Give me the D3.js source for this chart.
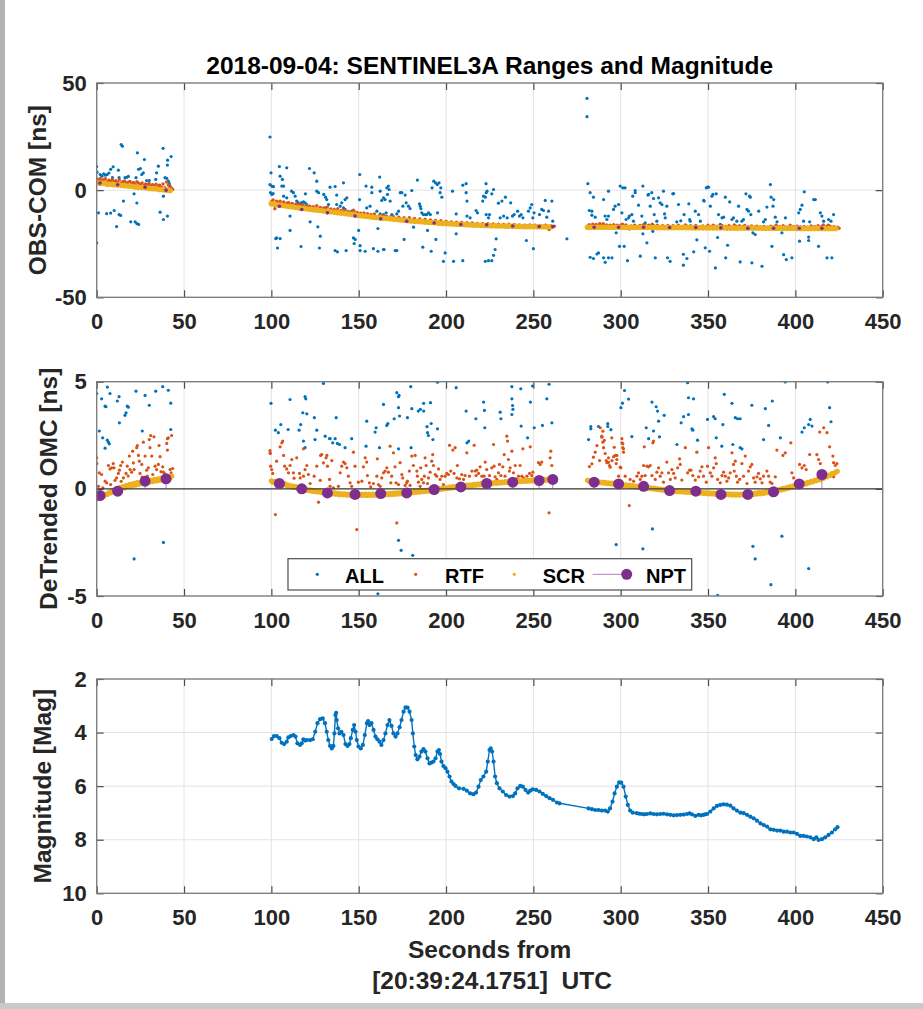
<!DOCTYPE html>
<html>
<head>
<meta charset="utf-8">
<script src="https://d3js.org/d3.v7.min.js"></script>
<style>
  body { margin: 0; background: #fff; }
  svg text { font-family: "Liberation Sans", Arial, sans-serif; font-weight: bold; }
</style>
</head>
<body>
<div id="chart"></div>
<script>
// ---------- data (seconds from 20:39:24.1751 UTC) ----------
var xTicks = [0, 50, 100, 150, 200, 250, 300, 350, 400, 450];
var omcTicks = [-50, 0, 50];
var resTicks = [-5, 0, 5];
var magTicks = [2, 4, 6, 8, 10];

// panel 1: OBS-COM [ns], all returns
var all1 = [[0,11],[0.2,8.4],[0,-24.6],[1,-10.6],[2,7.3],[3,6.5],[4,7.6],[5,7],[6,7.3],[7,8],[8,9.7],[9,5.8],[5.7,-11],[8,-10.7],[10,-9.5],[12.8,-11.4],[13.7,-11.8],[11.4,-17],[14,21.3],[14.7,20.5],[12.4,9.3],[12.8,5.8],[9.4,10.9],[15.3,-5.1],[16.2,5.8],[17.2,6],[18.1,6.4],[19.5,-14.8],[22,-14.8],[23,-15.6],[24,-16],[21.4,-1.7],[23,-6],[23.3,17.4],[22.5,5.8],[24,9.7],[25,10.1],[25.8,7.3],[27.3,14.3],[26.7,8.1],[28.6,4.5],[30.1,4.5],[33.8,5],[34.3,8.1],[35.3,11.2],[36.3,-10.3],[38,19.5],[38.2,-2.8],[38.2,-13.7],[39.1,5.8],[40.1,5.5],[40.5,11.7],[40.6,14],[40.5,-12.1],[41,4.2],[41.6,3],[42,1.9],[42.6,15.7],
  [99.2,24.8],[99.8,8.1],[99.2,2.6],[100.2,1.9],[101.2,1.6],[99.5,-1.2],[100.3,-2],[101,-1.6],[102.5,-22.6],[103,-22.3],[105,-22.6],[103.5,-27],[104.6,11],[105,6.5],[106.3,5],[106,1.9],[107,1.9],[108.8,10.4],[107,-2.8],[108.8,-3.6],[110.7,-12.1],[110.7,-18.8],[111.6,-0.5],[112.6,-1.2],[113.6,-2.8],[114.5,-5.1],[115.5,-5.9],[116.5,-6.4],[117.4,-5.8],[118.4,-5.5],[119.3,-5.9],[120.3,-6.7],[117,-26.3],[119.5,-1.7],[121.8,10.1],[122.2,-14.8],[124.5,8.1],[126,4.2],[126,-0.5],[127,-1.2],[126.6,-17.1],[127.5,-27],[128,-21.5],[130,-2],[131,-3.3],[131.7,-4.4],[131,-8.3],[132.7,-6.7],
  [133.6,1.4],[136.5,1.7],[137.4,-2.3],[137.4,-6.7],[139.4,-7.5],[141.3,-8.3],[142.2,-9],[141.3,3.4],[140.3,-5.9],[142.2,-4.4],[143.2,-3.6],[136.5,-28.2],[137.8,-28.8],[142.8,-28.2],[147,-22.3],[148,-23],[147.4,-24.9],[146,-9.8],[148,-10.6],[150,-18.8],[150.6,7.3],[150.5,-4.4],[150.8,-25.9],[150.8,-28.2],[153.7,-28.5],[154.2,1.9],[157.5,1.4],[157.5,-1.2],[156.5,-7.5],[154.6,-8.3],[161,-17.9],[158.4,-27.3],[161,-28.5],[164.2,-27.7],[164.5,-27.7],[162,6.1],[162.3,-0.5],[163.2,-4.8],[164.2,-3.6],[165.1,-4.4],[166.1,1.1],[167,1.9],[167.4,0.3],[166.5,-2],[160.4,-9.8],[162.3,-11.1],[164.2,-11.4],[165.7,-10.6],[168,-5.1],[169,-11.4],[170.9,-28.2],[171.8,-28.2],[171.8,-11.1],[172.8,-9.8],[173.8,-1.2],[174.7,-1.2],[175.3,-7.5],[176,-23],[176.6,-2.3],[177.2,-5.9],[178.5,-7.5],[179.4,-8.6],[180.4,-0.2],[181.4,-17.3],[183.6,4.7],[184.8,-6.4],[185.2,-7.5],[185.6,-8.6],[186.1,-10.6],[187,-11.4],[186.7,-26.6],[188.1,-11.4],[189,-11.4],[189.4,-18.8],[190,-10.6],[191,-11.4],[191.5,-28.5],[192,1.1],[193,4.2],[194,3.4],[195,2.6],[196,3.4],[197,1.1],[197.6,-3.3],[194.2,-23],[195.1,-10.6],[196.6,-1.2],[198.5,-33.2],[199.5,-29.3],[203.7,-0.5],[204.3,-33.2],[205.8,-11.1],[205.8,-20.4],[209.6,2.3],[211.5,3],[211.5,-1.2],[209.6,-32.9],[212,-5.1],[212,-12.1],[213.8,-12.9],[217.2,-9.5],[218,-10.6],[221,-5.1],[221.5,-2.8],[222.5,-3.3],[222.9,3],[223,-1.2],[223.5,-0.5],[222.5,-33.2],[224.3,-32.9],[226.2,-32.9],[227.2,-30.4],[228.1,-27.7],[223,-11.4],[224.3,-12.9],[224.9,-11.4],[226.2,-1.7],[227.2,0.3],[228.7,-22.7],[230,-6.1],[232,-5.1],[234,-3.3],[235,-12.9],[237,-5.9],[231,-12.9],[233,-12.1],[238,-12.1],[239,-11.4],[241,-9.8],[242,-12.1],[243,-11.4],[244,-12.9],[246,-23.5],[247.2,-9.8],[248.2,-8.3],[249.1,-6.7],[249.7,-12.9],[250,-27.3],[250.4,-10.6],[253.5,-11.4],[254.8,-9],[255.8,-9.5],[256.8,-4.8],[257.7,-12.6],[258.7,-9.8],[260.6,-5.1],[261.1,-14.5],[269.2,-22.7],
  [280.7,42.8],[280.7,34.3],[281.2,3],[282.5,-1.2],[283.5,-9.8],[284.4,-3.3],[282.5,-31.3],[284.4,-31.9],[286.4,-29.8],[287.3,-29.3],[282,-9.5],[283.5,-11.7],[285.4,-12.6],
  [290.2,-4.4],[291.1,-12.1],[292.1,-13.7],[293,-12.1],[290.2,-31.6],[291.1,-33.7],[293,-31.6],[295,-31.6],[293,-0.5],[295.9,-9],[296.8,-7.5],[297.4,-19.9],[298.8,-6.7],[299.3,-26.2],[299.7,1.9],[300.7,-10.6],[301.2,1.1],[302,-26.2],[302.5,1.1],[303.1,-13.7],[303.9,-32.9],[304.5,-12.9],[305,-12.1],[306.4,-11.4],[306.9,-2.8],[307.3,-14.5],[308.3,-1.2],[310.2,-7],[311.2,-30.8],[312.1,-12.1],[312.7,1.9],[312.7,-20.4],[314,-15.3],[315,-24.6],[316,-2],[316.9,-7.5],[317.8,-1.2],[318.4,-19.2],[318.8,-3.9],[319.2,-11.4],[319.8,-31.6],[320.7,-14.5],[321.7,-3.6],[322.6,-5.9],[323.6,-6.7],[324.5,-0.5],[325.1,-11.1],[325.5,-12.9],[326.4,-7.5],[326.8,-31.6],[328.3,-33.2],[329.8,-1.7],[332.1,-14.8],[333.1,-6.7],[334.4,-14.3],[335.9,-29.9],[336.3,-11.4],[337.9,-31.9],[335.9,-35],[339,-6.4],[339.5,-13.7],[339.8,-14.5],[341.8,-28.8],[342.7,-9.8],[343.6,-23.2],[344.6,-11.4],[345.6,-14.5],[347.5,-4.8],[347.8,-5.1],[348.4,-26.9],[349,1.1],[349.7,1.4],[350.9,-28.5],[351.3,-7.5],[352.2,-2.8],[352.8,-2],[354.2,-36.3],[354.7,-1.7],[355.5,-22.1],[356,-11.4],[357,-16],[358,-12.9],[358.9,-12.6],[359.9,-3.3],[360.1,-31.6],[361.2,-25.7],[362.4,-5.5],[363.7,-13.7],[364.6,-12.9],[366.5,-14.5],[367.5,-7.5],[368.4,-33.5],[369.4,-14.5],[370.3,-13.7],[371.7,-1.7],[372.3,-9],[373.2,-9.8],[374.2,-3.3],[374.5,-11.4],[375.1,-33.9],[375.7,-19.9],[377,-20.7],[379,-9.8],[380.9,-35.5],[381.8,-14.8],[382.8,-13.7],[383.7,-7.9],[385.7,2.6],[386.1,-3.3],[386.6,-26.2],[387.2,-7.5],[387.6,-4.4],[388.5,-12.6],[389.5,-14.8],[392.3,-19.9],[393.3,-30.1],[394.3,-12.9],[394.8,-32.4],[398,-31.6],[401.9,-10.6],[402.4,-23.8],[402.8,-9],[403.8,-7],[404.7,-14.5],[405.1,-0.8],[407.6,-21.9],[407.6,-23.5],[408.2,-14.8],[410.5,-4.4],[413.3,-26.2],[414.3,-10.6],[415.2,-12.1],[416.2,-14.5],[418.1,-31.6],[419,-13.7],[420.9,-31.6],[421.9,-11.4],[420.4,-14.5],[308.3,-0.2],[315.6,-2.3],[330.3,-1.6],[350.3,1.4],[373.8,-2.8],[411.4,-4.4]];

// panel 1: range-gate filtered returns
var rtf1 = [[0,5.2],[1,4.6],[2,5.5],[3,4.4],[4,4.9],[5,5.3],[6,3.9],[7,4.6],[8,4.2],[9,5.0],[10,3.8],[11,4.4],[12,3.6],[13,4.8],[14,3.4],[15,3.9],[16,4.3],[17,3.1],[18,3.7],[19,4.1],[20,3.0],[21,3.6],[22,2.7],[23,3.9],[24,3.2],[25,2.6],[26,3.4],[27,2.2],[28,2.9],[29,2.5],[30,3.1],[31,2.0],[32,2.6],[33,1.8],[34,2.8],[35,1.6],[36,2.3],[37,1.4],[38,2.9],[39,1.2],[40,3.8],[41,2.4],[42,1.5],[43,0.8],[43.5,0.3],
  [100,-5.4],[101,-4.6],[102,-8.7],[103,-5.2],[104,-6.0],[105,-5.1],[106,-6.3],[107,-5.5],[108,-6.6],[109,-6.0],[110,-5.8],[111,-6.9],[112,-6.2],[113,-7.3],[114,-6.6],[115,-7.2],[116,-6.4],[117,-7.7],[118,-7.0],[119,-7.9],[120,-7.2],[121,-8.1],[122,-7.5],[123,-8.4],[124,-7.7],[125,-8.6],[126,-7.3],[127,-8.8],[128,-8.1],[129,-9.0],[130,-8.3],[131,-9.1],[132,-7.9],[133,-9.4],[134,-8.8],[135,-9.6],[136,-9.0],[137,-9.9],[138,-8.7],[139,-10.0],[140,-9.5],[141,-10.2],[142,-9.3],[143,-10.5],[144,-9.9],[145,-10.8],[146,-10.1],[147,-9.4],[148,-11.0],[149,-10.4],[150,-11.3],[151,-10.7],[152,-11.5],[153,-10.6],[154,-11.8],[155,-11.0],[156,-12.0],[157,-11.3],[158,-12.2],[159,-11.1],[160,-12.4],[162,-11.8],[163,-12.6],[164,-11.9],[165,-12.8],[166,-12.1],[168,-12.5],[169,-13.3],[170,-12.4],[172,-13.2],[173,-12.6],[175,-13.5],[176,-12.8],[178,-13.7],[179,-12.9],[181,-13.9],[182,-13.2],[184,-14.2],[185,-13.4],[187,-14.5],[188,-13.6],[190,-14.7],[191,-13.9],[193,-14.9],[194,-14.1],[196,-15.1],[197,-14.3],[199,-15.3],[200,-14.6],[202,-15.4],[203,-14.8],[205,-15.6],[206,-15.0],[208,-15.7],[209,-15.1],[211,-15.8],[212,-15.2],[214,-16.0],[215,-15.3],[217,-16.1],[218,-15.5],[220,-16.2],[221,-15.6],[223,-16.3],[224,-15.7],[226,-16.4],[227,-15.8],[229,-16.5],[230,-15.9],[232,-16.6],[233,-16.0],[235,-16.6],[236,-15.9],[238,-16.7],[239,-16.1],[241,-16.8],[242,-16.2],[244,-16.8],[245,-16.3],[247,-16.9],[248,-16.2],[250,-16.9],[251,-16.4],[253,-17.0],[254,-16.5],[256,-17.0],[257,-16.4],[259,-18.4],[260,-16.6],[261,-17.3],[262,-16.8],
  [281,-16.8],[282,-16.1],[283,-16.9],[284,-15.9],[285,-16.5],[286,-16.0],[287,-16.7],[288,-15.7],[289,-16.4],[290,-15.6],[291,-16.6],[292,-16.2],[293,-16.8],[294,-16.3],[295,-16.9],[296,-16.1],[297,-16.7],[298,-16.4],[299,-17.0],[300,-16.3],[301,-15.9],[302,-16.8],[303,-16.2],[304,-17.0],[305,-18.1],[306,-16.7],[308,-16.4],[309,-17.0],[311,-16.5],[312,-16.9],[313,-16.1],[314,-16.6],[316,-16.3],[317,-17.0],[318,-15.9],[319,-16.6],[321,-16.4],[322,-17.0],[324,-16.6],[325,-17.1],[327,-16.5],[328,-17.0],[330,-16.6],[332,-17.1],[333,-16.4],[335,-16.9],[337,-16.2],[338,-16.8],[340,-16.6],[342,-17.1],[343,-16.5],[345,-17.0],[347,-16.7],[349,-17.2],[350,-16.4],[352,-16.9],[353,-16.3],[355,-16.8],[357,-17.2],[358,-16.5],[360,-16.9],[362,-16.6],[363,-17.2],[365,-16.2],[366,-16.8],[368,-16.6],[370,-17.1],[371,-16.5],[373,-17.0],[375,-16.7],[377,-17.2],[378,-16.8],[380,-17.2],[382,-16.9],[384,-17.3],[386,-16.8],[388,-17.2],[389,-16.4],[391,-17.0],[393,-16.6],[395,-17.2],[397,-16.3],[399,-17.1],[401,-16.8],[403,-17.2],[405,-16.9],[407,-17.3],[409,-16.7],[411,-17.1],[413,-16.6],[415,-16.9],[416,-16.2],[418,-16.8],[419,-16.3],[420,-16.9],[421,-17.5],[422,-17.0],[423,-17.6],[424,-17.3],[425,-17.8]];

// panel 1: screened returns, sampled every 2 s from each segment start
var scr1Start = [0, 100, 281];
var scr1Step = 2;
var scr1A = [3.5,3.2,3.2,2.8,2.7,2.5,2.4,2.3,2.0,1.9,1.8,1.5,1.3,1.2,1.1,0.8,0.7,0.6,0.3,0.2,0.0,-0.2];
var scr1B = [-6.4,-6.6,-6.9,-7.1,-7.4,-7.6,-7.8,-8.1,-8.3,-8.5,-8.7,-8.9,-9.1,-9.3,-9.5,-9.7,-9.9,-10.1,-10.3,-10.5,-10.7,-10.9,-11.1,-11.3,-11.5,-11.8,-12.0,-12.2,-12.4,-12.6,-12.8,-12.9,-13.1,-13.2,-13.4,-13.6,-13.7,-13.9,-14.0,-14.2,-14.4,-14.5,-14.6,-14.7,-14.9,-15.0,-15.1,-15.2,-15.4,-15.5,-15.6,-15.7,-15.8,-15.9,-15.9,-16.0,-16.1,-16.2,-16.3,-16.3,-16.4,-16.5,-16.5,-16.6,-16.6,-16.7,-16.7,-16.8,-16.8,-16.9,-16.9,-16.9,-17.0,-17.0,-17.0,-17.0,-17.1,-17.1,-17.1,-17.1,-17.2];
var scr1C = [-17.3,-17.3,-17.3,-17.3,-17.3,-17.3,-17.3,-17.3,-17.3,-17.3,-17.4,-17.4,-17.4,-17.4,-17.4,-17.4,-17.4,-17.4,-17.4,-17.4,-17.5,-17.5,-17.5,-17.5,-17.5,-17.5,-17.5,-17.5,-17.5,-17.5,-17.6,-17.6,-17.6,-17.6,-17.6,-17.6,-17.6,-17.6,-17.6,-17.6,-17.7,-17.7,-17.7,-17.7,-17.7,-17.7,-17.7,-17.7,-17.7,-17.7,-17.8,-17.8,-17.8,-17.8,-17.8,-17.8,-17.8,-17.8,-17.8,-17.8,-17.9,-17.9,-17.9,-17.9,-17.9,-17.9,-17.9,-17.9,-17.9,-17.9,-17.9,-17.9];

// panel 2: detrended OMC [ns]
var all2 = [[0,4.45],[2.8,4.2],[6.1,4.75],[7.6,4.45],[4.8,3.86],[5.3,3.83],[11.8,4.1],[12.8,4.3],[17.5,3.86],[16.2,3.43],[16.8,3.55],[13,3.08],[18.1,3.81],[22.5,4.56],[27.7,4.36],[30.1,3.9],[33.8,4.56],[37.8,4.77],[41,4.6],[42.4,4.0],[1.5,2.7],[3.4,2.38],[6.1,2.27],[6.7,2.18],[7.2,2.1],[4.8,1.9],[26.1,2.7],[42.4,2.77],[38.2,-2.5],[21.4,-3.27],
  [99.8,3.99],[110.7,4.17],[119.3,4.3],[119.7,4.2],[118,3.55],[120.3,3.5],[116.8,3.0],[115.9,2.74],[124.6,3.32],[126,2.74],[125,2.3],[130.8,2.46],[133.3,2.35],[118.4,2.23],[119.3,1.92],[102.3,2.74],[104,2.62],[105.4,3.0],[109.6,2.77],[129.8,4.92],
  [137.1,3.32],[133.6,2.34],[135.1,2.15],[136.5,2.34],[137.8,2.12],[139,2.07],[142.2,1.92],[146,2.34],[154.2,1.99],[154.6,3.16],[159.4,2.65],[160,2.85],[161.9,1.92],[164.2,3.94],[166.1,2.96],[166.7,3.05],[170.3,3.27],[171.8,4.49],[172.8,4.3],[173.1,4.36],[172.8,3.79],[173.4,3.4],[172.8,1.87],[177.9,3.32],[179.8,4.77],[180.4,3.74],[180,1.92],[184.1,3.63],[185.3,3.71],[187.2,3.63],[187.2,3.99],[189.1,2.9],[189.4,2.62],[189.9,2.49],[191.5,3.05],[192.5,2.3],[191.1,4.02],[195.1,4.98],[195.1,2.8],[205.8,4.72],[211.5,3.63],[212,2.15],[213,2.23],[217.1,3.27],[221.5,4.05],[222,3.66],[222.2,2.85],[231,3.58],[231.4,3.27],[237.7,4.77],[237.7,4.2],[238.1,3.89],[238.3,3.71],[237.7,3.47],[242.8,4.67],[243,2.93],[246.7,2.38],[248.3,4.05],[249.5,4.8],[250.5,2.85],[255.2,2.96],[257.7,4.2],[259,4.88],[260.6,3.08],[172.8,-2.4],[174.3,-2.87],[180.9,-3.1],[161,-4.9],
  [281.6,2.3],[282.9,2.91],[282.9,2.8],[287.3,2.91],[292.6,3.04],[292.6,2.91],[294.4,2.76],[300.1,3.79],[301,4.0],[302.2,4.59],[304.5,4.19],[306.4,2.44],[297.4,-2.6],
  [317.9,4.05],[320.3,3.83],[321.1,3.63],[321.7,3.16],[314.6,2.85],[318.8,2.7],[316,2.34],[322.2,2.43],[324.9,3.43],[332.2,2.07],[334.6,3.08],[336,3.37],[338.8,3.47],[338.8,4.25],[341.7,4.2],[340.8,2.8],[341.3,2.74],[344,2.27],[338.3,4.95],[349.7,3.24],[353.2,3.37],[354.1,3.27],[354.7,2.38],[357.9,1.99],[358.5,3.0],[359.3,4.41],[363.7,3.99],[364.2,2.07],[365.6,3.32],[366.9,3.27],[368.4,3.27],[368.4,1.92],[369.4,1.87],[375.1,3.9],[382.8,3.74],[386.8,4.1],[384.7,2.96],[381.8,2.3],[391.4,2.38],[394.2,4.99],[403.8,2.65],[405.1,2.85],[407.6,3.0],[408.5,3.24],[409.5,2.93],[418.5,4.99],[419.6,3.79],[420.4,3.13],[312.7,-2.8],[318.2,-1.87],[375.7,-2.68],[377,-3.27],[386,-4.47],[392.3,-2.21],[407.6,-3.72],[355.5,-4.97]];

var rtf2 = [[0,1.45],[0.1,1.18],[1.5,0.75],[2.8,0.67],[1,0.12],[4.8,0.36],[5.7,0.28],[6.7,1.09],[7.6,0.93],[8.6,0.98],[9.5,1.18],[9.9,0.98],[10.5,0.4],[11.4,0.51],[12.4,0.72],[13,0.87],[13.7,1.09],[14.7,1.25],[15.3,0.51],[16.8,0.72],[17.5,1.06],[18.7,1.53],[19.1,0.9],[20,0.78],[20.6,1.76],[21,1.21],[21.4,0.9],[22.9,1.92],[23.3,2.02],[23.9,1.56],[24.4,1.29],[24.8,0.72],[25.8,1.14],[26.7,2.18],[27.7,1.53],[28.6,0.87],[29.6,0.98],[30.1,2.3],[30.5,1.92],[30.9,2.49],[31.5,1.53],[32.1,0.67],[32.8,2.43],[33.4,1.06],[34.3,0.9],[35.3,1.14],[35.7,2.02],[36.3,1.5],[37.8,1.03],[38.2,0.78],[40.1,2.12],[40.5,1.81],[41,2.38],[42.9,2.49],[42,0.9],[42.6,0.75],[42.9,0.59],[40.5,2.34],[3.5,0.05],[8,0.2],[14,0.35],[18,0.6],[26,0.55],[29,0.6],[36.8,0.8],[39,0.7],[43.5,0.95],
  [99.3,1.68],[99.6,1.06],[100.2,0.9],[100.8,0.72],[101.6,0.28],[102.3,-1.2],[103,1.29],[105,1.96],[106,2.15],[106.5,2.23],[107,1.56],[107.6,1.06],[108.8,0.93],[109.8,0.75],[110.7,1.09],[111.7,1.37],[112.6,0.75],[113,0.5],[114.5,1.45],[116.1,0.72],[116.5,0.51],[118.4,0.59],[119.3,0.9],[120.3,1.09],[121.2,0.67],[122.2,0.25],[124.5,0.59],[126,1.06],[127,-0.62],[128,0.4],[128.8,1.6],[129.8,1.21],[131.3,1.45],[132.1,1.06],[133.3,0.44],[99.2,1.79],[99.4,1.65],[118.4,1.87],[128.2,1.56],[131.8,1.56],[134.6,1.32],
  [133.6,0.12],[135.5,0.05],[138.4,0.12],[139.4,0.75],[140.3,1.06],[141.3,1.25],[142.2,1.18],[143.2,0.98],[144.1,0.59],[145.1,0.28],[146,0.12],[147,1.71],[147.9,1.06],[148.9,-1.9],[149.8,0.31],[151.8,0.36],[152.7,1.03],[153.7,1.45],[154.6,1.25],[155,0.62],[156.1,0.28],[156.9,0.09],[158.4,0.25],[160.4,0.59],[160.7,1.4],[161.3,0.2],[162.3,0.12],[163.2,0.51],[164.2,0.75],[165.1,0.83],[166.1,0.98],[167,0.78],[168,1.99],[168.4,0.28],[168.9,0.59],[169.9,1.68],[170.8,1.03],[171.4,0.28],[171.8,-1.59],[172.8,0.2],[173.7,1.22],[174.7,0.67],[175.2,0.51],[176.6,0.16],[177.5,0.28],[177.9,0.36],[179,0.83],[179.4,0.16],[180.4,1.53],[181.3,1.09],[182.3,1.56],[183.3,0.83],[183.6,0.59],[184.2,0.31],[185.2,0.12],[185.5,0.98],[186.1,0.44],[187.1,0.28],[187.6,0.59],[188,1.45],[188.6,1.09],[189.4,0.25],[189.9,0.51],[190.9,0.78],[191.8,1.29],[192.4,1.6],[192.8,1.09],[193.8,0.67],[194.7,0.59],[195.7,0.93],[196.6,0.44],[197.6,0.59],[198.5,0.2],[199.5,0.59],[200.4,0.72],[201.4,0.67],[202,2.03],[202.7,0.83],[203.9,1.81],[204.6,0.72],[205.2,1.92],[206.2,0.51],[206.5,1.09],[207.7,0.47],[209,0.67],[210,0.44],[210.9,0.62],[211.9,1.68],[213.4,0.59],[214.8,0.83],[216.1,2.03],[216.7,0.83],[217.2,0.62],[217.6,0.87],[218.6,0.72],[219.5,1.03],[220.5,0.59],[221.8,0.59],[222.4,1.25],[223.3,0.9],[224.9,0.62],[226.2,0.98],[227.2,2.07],[227.5,1.06],[228.1,0.56],[229.1,0.44],[230,0.75],[230.6,1.14],[231.4,0.62],[232.5,1.03],[233.3,1.6],[233.8,0.59],[234.8,2.46],[235.2,2.23],[235.7,1.37],[236.3,0.83],[236.7,0.98],[237.7,1.76],[238.6,0.75],[239.6,1.09],[240.5,0.47],[241.5,0.59],[242.4,1.09],[243.4,0.59],[244,1.87],[244.3,0.51],[246.3,0.59],[247.8,0.72],[248.2,1.96],[249.1,0.62],[249.7,0.78],[252.9,1.22],[253.9,1.14],[254.8,1.25],[259,-1.12],[259.6,1.45],[260,1.76],[260.6,1.09],[261.1,0.59],
  [282.1,1.04],[283.5,1.17],[284.4,1.48],[285.4,1.71],[286.4,2.02],[287.9,1.32],[289.2,2.41],[289.8,2.69],[290.6,2.26],[291.7,1.32],[293,1.24],[294,1.01],[295,1.32],[296.3,1.94],[297.8,1.56],[299.7,1.01],[300.7,2.34],[301.2,2.1],[301.6,1.87],[304.9,-0.78],
  [288.3,2.85],[289.2,2.46],[289.8,2.18],[290.2,1.92],[291.1,1.65],[292.1,1.22],[293,1.45],[293.6,1.09],[294.9,2.38],[295.9,1.5],[296.9,1.56],[297.4,1.18],[297.8,1.37],[298.8,0.59],[300.1,0.98],[300.7,2.15],[301.2,1.92],[301.6,1.71],[302.6,0.59],[305.4,0.44],[307.4,0.36],[309.3,0.59],[310.2,0.75],[311.2,0.44],[312.1,0.59],[313.1,1.09],[313.5,1.96],[314,0.62],[315,1.06],[316,1.03],[316.9,1.09],[317.9,0.62],[318.4,2.15],[318.8,2.23],[319.8,0.44],[320.7,0.78],[321.7,0.98],[322.6,0.59],[323.6,0.75],[324.5,0.31],[326.4,1.25],[327.4,0.75],[328.4,0.44],[329.3,0.9],[330.3,0.72],[331.2,0.51],[332.6,0.98],[333.7,1.4],[334.1,1.14],[335,0.41],[337,1.92],[338.3,0.75],[339.4,0.87],[340.2,0.87],[341.3,0.62],[342.7,0.41],[343.6,1.71],[344.6,0.56],[345.5,0.83],[346.5,1.03],[347.4,0.59],[349,0.31],[349.7,1.06],[350.3,1.92],[351.3,0.75],[352.2,0.59],[353.2,0.98],[354.1,1.45],[354.7,1.18],[355.5,0.44],[357,0.28],[358,0.62],[358.9,0.78],[359.9,0.59],[360.8,0.36],[361.8,0.51],[362.7,0.75],[363.7,1.68],[364.6,1.14],[365,0.83],[365.6,1.29],[366.2,0.59],[366.9,0.31],[368.1,0.44],[369.4,1.18],[370.3,0.59],[371.3,1.53],[372.3,0.25],[373.2,0.83],[374.2,1.03],[375.1,1.14],[376.1,0.51],[377,0.31],[378,0.56],[378.9,0.72],[379.9,0.47],[380.9,0.28],[381.8,0.59],[383.7,0.83],[384.7,0.59],[385.6,0.31],[386.6,0.25],[388.5,0.56],[389.4,1.81],[392.9,1.56],[394.2,1.68],[397.4,2.15],[398,0.75],[399,0.51],[402.4,1.14],[403.8,0.98],[405.1,1.09],[406.2,0.9],[408.2,1.6],[412.3,1.6],[413.3,1.37],[414.3,1.18],[413.9,2.65],[416.2,2.85],[418.1,2.62],[419.6,1.96],[421.5,1.53],[421.9,1.22],[422.8,1.09],[423.8,1.18],[421.9,0.56]];

var scr2Start = [0, 100, 281];
var scr2Step = 1;
var scr2A = [-0.45,-0.36,-0.42,-0.30,-0.34,-0.24,-0.26,-0.17,-0.19,-0.09,-0.12,-0.01,-0.05,0.06,0.00,0.11,0.05,0.16,0.10,0.21,0.14,0.25,0.17,0.29,0.21,0.32,0.25,0.35,0.28,0.38,0.31,0.41,0.34,0.44,0.37,0.47,0.40,0.50,0.43,0.53,0.47,0.57,0.51,0.60];
var scr2B = [0.37,0.30,0.35,0.27,0.31,0.23,0.27,0.19,0.23,0.15,
  0.18,0.11,0.14,0.07,0.10,0.03,0.06,-0.01,0.02,-0.05,
  -0.02,-0.08,-0.05,-0.11,-0.07,-0.13,-0.09,-0.15,-0.12,-0.18,
  -0.14,-0.20,-0.16,-0.22,-0.18,-0.24,-0.19,-0.25,-0.21,-0.27,
  -0.22,-0.28,-0.23,-0.29,-0.24,-0.30,-0.24,-0.30,-0.25,-0.31,
  -0.24,-0.31,-0.25,-0.30,-0.24,-0.31,-0.25,-0.30,-0.24,-0.30,
  -0.24,-0.29,-0.23,-0.29,-0.22,-0.28,-0.22,-0.27,-0.21,-0.26,
  -0.20,-0.25,-0.19,-0.24,-0.17,-0.23,-0.16,-0.21,-0.15,-0.20,
  -0.13,-0.18,-0.12,-0.16,-0.10,-0.15,-0.08,-0.13,-0.07,-0.11,
  -0.05,-0.10,-0.03,-0.07,-0.01,-0.05,0.01,-0.03,0.03,0.00,
  0.05,0.02,0.08,0.04,0.10,0.06,0.12,0.08,0.14,0.10,
  0.16,0.12,0.17,0.14,0.19,0.15,0.21,0.17,0.22,0.19,
  0.24,0.20,0.25,0.22,0.27,0.23,0.28,0.25,0.30,0.26,
  0.31,0.27,0.32,0.29,0.34,0.30,0.35,0.31,0.36,0.32,
  0.37,0.33,0.38,0.34,0.39,0.35,0.40,0.36,0.41,0.37,
  0.42,0.38,0.42,0.39,0.43,0.39,0.44,0.40,0.44,0.41,
  0.45,0.42];
var scr2C = [0.40,0.35,0.38,0.33,0.36,0.31,0.34,0.29,0.32,0.27,
  0.30,0.25,0.28,0.24,0.27,0.22,0.25,0.20,0.23,0.18,
  0.21,0.16,0.19,0.14,0.17,0.12,0.15,0.10,0.13,0.08,
  0.11,0.06,0.09,0.04,0.07,0.02,0.05,0.00,0.03,-0.02,
  0.01,-0.04,-0.01,-0.06,-0.03,-0.08,-0.05,-0.10,-0.06,-0.11,
  -0.08,-0.13,-0.09,-0.14,-0.10,-0.15,-0.11,-0.16,-0.12,-0.17,
  -0.13,-0.18,-0.14,-0.19,-0.15,-0.20,-0.17,-0.22,-0.18,-0.23,
  -0.19,-0.24,-0.20,-0.25,-0.21,-0.26,-0.22,-0.27,-0.23,-0.28,
  -0.23,-0.28,-0.23,-0.29,-0.24,-0.29,-0.24,-0.29,-0.24,-0.28,
  -0.23,-0.28,-0.22,-0.27,-0.21,-0.26,-0.20,-0.24,-0.18,-0.23,
  -0.16,-0.21,-0.14,-0.18,-0.11,-0.15,-0.08,-0.12,-0.05,-0.09,
  -0.02,-0.05,0.02,-0.01,0.06,0.03,0.10,0.07,0.14,0.11,
  0.18,0.15,0.22,0.19,0.26,0.23,0.30,0.28,0.35,0.33,
  0.40,0.38,0.45,0.43,0.51,0.49,0.57,0.56,0.64,0.63,
  0.71,0.72,0.78,0.82];

// normal points
var nptT = [1.9,12,27.7,39.7,104.6,117.4,132.1,147.9,162.6,177.5,193.2,208.5,223.3,238.2,253.3,261.1,284.8,298.8,313.1,328,343,357.4,372.8,387.5,402.2,415.2];
var nptOmc = [3.3,2.5,1.4,0,-7.5,-9.0,-10.6,-12.1,-13.4,-14.5,-15.3,-16.0,-16.2,-16.7,-17.0,-17.0,-17.3,-17.3,-17.3,-17.4,-17.4,-17.6,-17.8,-17.8,-17.8,-17.8];
var nptRes = [-0.31,-0.11,0.36,0.47,0.25,0.0,-0.19,-0.26,-0.22,-0.19,-0.03,0.09,0.25,0.31,0.39,0.44,0.31,0.23,0.12,-0.08,-0.11,-0.26,-0.26,-0.14,0.23,0.67];

// panel 3: magnitude
var mag = [[100.2,4.24],[101.5,4.13],[103.1,4.13],[104.6,4.21],[105.9,4.38],[107.3,4.43],[108.8,4.34],[109.7,4.18],[111.1,4.13],[112.6,4.09],[113.8,4.15],[114.9,4.4],[116.4,4.46],[117.4,4.4],[118.3,4.25],[119.3,4.3],[120.3,4.28],[122.2,4.28],[123.7,4.25],[125.1,3.97],[126.4,3.65],[127.9,3.5],[129.4,3.47],[130.7,3.65],[131.7,3.97],[132.6,4.28],[133.6,4.5],[134.6,4.59],[135.5,4.5],[136.1,4.03],[136.7,3.34],[137.1,3.26],[137.4,3.53],[138.2,3.84],[139,4.03],[140.1,3.97],[141.3,4.09],[142.4,4.43],[143.6,4.5],[144.7,4.43],[145.5,4.21],[146.6,3.9],[147.4,3.72],[148.2,3.97],[148.9,4.28],[149.9,4.52],[151.2,4.59],[152.4,4.46],[153.5,4.09],[154.7,3.65],[155.4,3.57],[156.2,3.72],[157.3,3.65],[158.5,3.9],[159.6,4.15],[160.7,4.25],[161.9,4.34],[163,4.46],[164.2,4.28],[165.3,4.03],[166.5,3.72],[167.6,3.53],[168.8,3.75],[169.9,4.03],[171.1,4.15],[172.2,4.03],[173.4,3.8],[174.5,3.53],[175.7,3.22],[176.8,3.06],[178,3.07],[179.1,3.22],[180.3,3.53],[181,4.03],[181.8,4.52],[182.6,4.84],[183.6,5.0],[184.8,4.9],[185.9,4.71],[187.1,4.62],[188.2,4.71],[189.4,4.96],[190.5,5.15],[191.7,5.12],[192.8,5.08],[194,4.96],[195.1,4.71],[195.9,4.65],[196.6,4.8],[197.4,5.08],[198.5,5.25],[199.7,5.33],[200.8,5.46],[202,5.64],[203.1,5.83],[204.3,5.92],[205.4,5.99],[207.4,6.08],[210,6.1],[211.9,6.17],[213.8,6.27],[215.7,6.3],[217.2,6.24],[218.6,6.02],[219.9,5.77],[221.4,5.64],[223,5.46],[223.9,5.08],[224.9,4.65],[225.6,4.59],[226.4,4.71],[227.2,5.08],[228.1,5.64],[229.1,5.89],[230.6,6.08],[232.5,6.2],[234.4,6.33],[236.3,6.39],[238.3,6.37],[239.6,6.27],[240.9,6.08],[242.5,5.99],[244,6.02],[245.5,6.14],[247,6.24],[248.2,6.17],[249.7,6.12],[251.6,6.14],[253.5,6.2],[255.4,6.29],[257.3,6.37],[259.3,6.45],[261.2,6.51],[263.5,6.61],[265,6.64],
  [281.6,6.83],[283.5,6.86],[285.4,6.89],[287.3,6.89],[289.2,6.91],[291.1,6.91],[292.6,6.95],[293.9,6.83],[295.3,6.58],[296.5,6.27],[297.8,6.02],[299.1,5.86],[300.3,5.87],[301.6,6.02],[302.9,6.39],[304.1,6.7],[305.4,6.91],[306.9,6.99],[309.2,7.01],[310.6,7.03],[312.1,7.04],[313.5,7.05],[315,7.04],[316.9,7.02],[318.8,7.04],[320.7,7.05],[322.6,7.04],[324.5,7.03],[326.5,7.05],[328.4,7.07],[330.3,7.09],[332.2,7.08],[334.1,7.07],[336,7.06],[337.9,7.04],[339.4,7.02],[340.8,7.05],[342.7,7.11],[344.6,7.07],[346,7.09],[347.4,7.07],[348.4,7.05],[349.4,7.04],[351.3,6.95],[353.2,6.83],[355.1,6.74],[357,6.7],[358.9,6.68],[360.8,6.69],[362.8,6.73],[364.6,6.83],[366.5,6.91],[368.5,6.99],[370.4,7.01],[372.3,7.07],[374.2,7.14],[376.1,7.2],[378,7.29],[380,7.39],[381.9,7.45],[383.8,7.51],[385.7,7.61],[387.6,7.63],[389.5,7.66],[391.4,7.66],[393.3,7.7],[395.2,7.7],[397.1,7.73],[399,7.73],[400.9,7.78],[402.8,7.86],[404.7,7.86],[406.6,7.88],[408.6,7.91],[410.5,7.98],[412,7.91],[413.3,8.01],[415.2,7.98],[417.1,7.91],[419,7.82],[420.9,7.73],[422.8,7.61],[424.1,7.53]];

// ---------- drawing ----------
var W = 923, H = 1009;
var BLUE = "#0072BD", ORANGE = "#D95319", YELLOW = "#EDB120", PURPLE = "#7E2F8E";

var svg = d3.select("#chart").append("svg").attr("width", W).attr("height", H);
svg.append("rect").attr("width", W).attr("height", H).attr("fill", "#fff");
// window edge of the screenshot
svg.append("rect").attr("x", 0).attr("y", 0).attr("width", 5).attr("height", H).attr("fill", "#b3b3b3");
svg.append("rect").attr("x", 0).attr("y", 1003).attr("width", W).attr("height", 6).attr("fill", "#c9c9c9");

var x = d3.scaleLinear().domain([0, 450]).range([96.7, 882.7]);
var plain = function (d) { return String(d); };   // hyphen minus, like the original

function series(starts, step, arrs) {
  var out = [];
  arrs.forEach(function (a, k) {
    a.forEach(function (v, i) { out.push([starts[k] + i * step, v]); });
  });
  return out;
}

function makePanel(top, bottom, domain, ticks, label, labelX, id) {
  var y = d3.scaleLinear().domain(domain).range([bottom, top]);
  var g = svg.append("g");
  // grid
  g.selectAll(null).data(xTicks).enter().append("line")
    .attr("x1", d => x(d)).attr("x2", d => x(d)).attr("y1", top).attr("y2", bottom)
    .attr("stroke", "#e3e3e3").attr("stroke-width", 1);
  g.selectAll(null).data(ticks).enter().append("line")
    .attr("x1", x(0)).attr("x2", x(450)).attr("y1", d => y(d)).attr("y2", d => y(d))
    .attr("stroke", "#e3e3e3").attr("stroke-width", 1);

  var bx = g.append("g").attr("transform", "translate(0," + bottom + ")")
    .call(d3.axisBottom(x).tickValues(xTicks).tickFormat(plain).tickSizeInner(-7).tickSizeOuter(0).tickPadding(16));
  var tx = g.append("g").attr("transform", "translate(0," + top + ")")
    .call(d3.axisTop(x).tickValues(xTicks).tickSizeInner(-7).tickSizeOuter(0).tickFormat(""));
  var ly = g.append("g").attr("transform", "translate(" + x(0) + ",0)")
    .call(d3.axisLeft(y).tickValues(ticks).tickFormat(plain).tickSizeInner(-7).tickSizeOuter(0).tickPadding(10));
  var ry = g.append("g").attr("transform", "translate(" + x(450) + ",0)")
    .call(d3.axisRight(y).tickValues(ticks).tickSizeInner(-7).tickSizeOuter(0).tickFormat(""));
  [bx, tx, ly, ry].forEach(function (a) {
    a.attr("color", "#262626");
    a.select(".domain").remove();
    a.selectAll("line").attr("stroke", "#4d4d4d").attr("stroke-width", 1.2);
    a.selectAll("text").attr("font-size", "22px").attr("font-weight", "bold")
      .attr("font-family", "Liberation Sans, Arial, sans-serif").attr("fill", "#262626");
  });

  g.append("text")
    .attr("transform", "translate(" + labelX + "," + ((top + bottom) / 2) + ") rotate(-90)")
    .attr("text-anchor", "middle").attr("font-size", "24.5px").attr("fill", "#262626")
    .text(label);

  svg.append("clipPath").attr("id", id).append("rect")
    .attr("x", x(0)).attr("y", top).attr("width", x(450) - x(0)).attr("height", bottom - top);
  var plot = svg.append("g").attr("clip-path", "url(#" + id + ")");
  return { y: y, plot: plot, top: top, bottom: bottom };
}

function dots(p, data, r, color) {
  p.plot.append("g").selectAll("circle").data(data).enter().append("circle")
    .attr("cx", d => x(d[0])).attr("cy", d => p.y(d[1])).attr("r", r).attr("fill", color);
}

function frame(p) {
  svg.append("rect").attr("x", x(0)).attr("y", p.top)
    .attr("width", x(450) - x(0)).attr("height", p.bottom - p.top)
    .attr("fill", "none").attr("stroke", "#7a7a7a").attr("stroke-width", 1.3);
}

// title
svg.append("text").attr("x", 489.7).attr("y", 74).attr("text-anchor", "middle")
  .attr("font-size", "24.5px").attr("fill", "#000")
  .text("2018-09-04: SENTINEL3A Ranges and Magnitude");

// panel 1
var p1 = makePanel(83, 297.3, [-50, 50], omcTicks, "OBS-COM [ns]", 46, "clip1");
dots(p1, all1, 1.6, BLUE);
dots(p1, rtf1, 1.7, ORANGE);
dots(p1, series(scr1Start, scr1Step, [scr1A, scr1B, scr1C]), 2.8, YELLOW);
dots(p1, nptT.map((t, i) => [t, nptOmc[i]]), 1.8, PURPLE);
frame(p1);

// panel 2
var p2 = makePanel(381.7, 596, [-5, 5], resTicks, "DeTrended OMC [ns]", 57, "clip2");
dots(p2, all2, 1.6, BLUE);
dots(p2, rtf2, 1.6, ORANGE);
dots(p2, series(scr2Start, scr2Step, [scr2A, scr2B, scr2C]), 2.6, YELLOW);
p2.plot.append("line").attr("x1", x(0)).attr("x2", x(450))
  .attr("y1", p2.y(0)).attr("y2", p2.y(0)).attr("stroke", "#3a3a3a").attr("stroke-width", 1.2);
var npt2 = nptT.map((t, i) => [t, nptRes[i]]);
p2.plot.append("g").selectAll("line").data(npt2).enter().append("line")
  .attr("x1", d => x(d[0])).attr("x2", d => x(d[0]))
  .attr("y1", p2.y(0)).attr("y2", d => p2.y(d[1]))
  .attr("stroke", PURPLE).attr("stroke-opacity", 0.6).attr("stroke-width", 1);
dots(p2, npt2, 5.5, PURPLE);
frame(p2);

// legend
var lg = svg.append("g");
lg.append("rect").attr("x", 288).attr("y", 558.7).attr("width", 403.7).attr("height", 31.3)
  .attr("fill", "#fff").attr("stroke", "#4d4d4d").attr("stroke-width", 1.2);
var legendItems = [
  { name: "ALL", color: BLUE, mx: 317.3, tx: 345 },
  { name: "RTF", color: ORANGE, mx: 415.7, tx: 445 },
  { name: "SCR", color: YELLOW, mx: 514.3, tx: 542.7 }
];
legendItems.forEach(function (d) {
  lg.append("circle").attr("cx", d.mx).attr("cy", 574.3).attr("r", 1.6).attr("fill", d.color);
  lg.append("text").attr("x", d.tx).attr("y", 582.5).attr("font-size", "20px").attr("fill", "#000").text(d.name);
});
lg.append("line").attr("x1", 592.7).attr("x2", 626.7).attr("y1", 574.3).attr("y2", 574.3)
  .attr("stroke", PURPLE).attr("stroke-opacity", 0.6).attr("stroke-width", 1);
lg.append("circle").attr("cx", 626.7).attr("cy", 574.3).attr("r", 5.5).attr("fill", PURPLE);
lg.append("text").attr("x", 646).attr("y", 582.5).attr("font-size", "20px").attr("fill", "#000").text("NPT");

// panel 3
var p3 = makePanel(679, 893.3, [10, 2], magTicks, "Magnitude [Mag]", 51, "clip3");
p3.plot.append("path").datum(mag)
  .attr("d", d3.line().x(d => x(d[0])).y(d => p3.y(d[1])))
  .attr("fill", "none").attr("stroke", BLUE).attr("stroke-width", 1.4);
dots(p3, mag, 2.1, BLUE);
frame(p3);

// x label
svg.append("text").attr("x", 489.7).attr("y", 958).attr("text-anchor", "middle")
  .attr("font-size", "24.5px").attr("fill", "#262626").text("Seconds from");
svg.append("text").attr("x", 492).attr("y", 989).attr("text-anchor", "middle")
  .attr("font-size", "24.5px").attr("fill", "#262626").style("white-space", "pre")
  .text("[20:39:24.1751]  UTC");
</script>
</body>
</html>
